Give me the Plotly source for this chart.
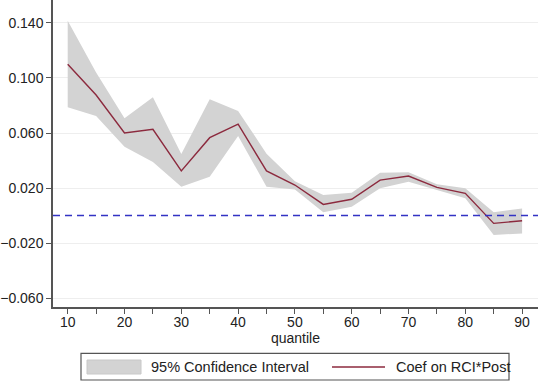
import plotly.graph_objects as go

quantiles = [10, 15, 20, 25, 30, 35, 40, 45, 50, 55, 60, 65, 70, 75, 80, 85, 90]
coef = [0.110, 0.0876, 0.060, 0.0627, 0.0324, 0.0566, 0.0665, 0.0324, 0.0222,
        0.0081, 0.0118, 0.0258, 0.0287, 0.0205, 0.0161, -0.0057, -0.0038]
ci_upper = [0.1417, 0.104, 0.0707, 0.086, 0.0447, 0.0845, 0.076, 0.045, 0.025,
            0.0149, 0.0166, 0.0311, 0.0314, 0.0227, 0.0198, 0.0023, 0.0052]
ci_lower = [0.0787, 0.0724, 0.050, 0.039, 0.021, 0.0282, 0.0578, 0.021, 0.019,
            0.0023, 0.0064, 0.0198, 0.0245, 0.0185, 0.0125, -0.0142, -0.013]
y_ticks = [-0.06, -0.02, 0.02, 0.06, 0.10, 0.14]
x_ticks = [10, 20, 30, 40, 50, 60, 70, 80, 90]
legend_labels = ["95% Confidence Interval", "Coef on RCI*Post"]

FILL = "#d3d3d3"
LINE = "#8c2a3e"
FONT = "Liberation Sans, Arial, sans-serif"

fig = go.Figure()
fig.add_trace(go.Scatter(
    x=quantiles + quantiles[::-1],
    y=ci_upper + ci_lower[::-1],
    fill="toself", fillcolor=FILL, line=dict(width=0, color=FILL),
    mode="lines", hoverinfo="skip", showlegend=False))
fig.add_trace(go.Scatter(
    x=quantiles, y=coef, mode="lines",
    line=dict(color=LINE, width=1.4), showlegend=False))

# zero reference line
fig.add_shape(type="line", xref="paper", yref="y", x0=0, x1=1, y0=0, y1=0,
              line=dict(color="#3333c4", width=1.5, dash="7px,5px"))

tickvals = list(range(10, 91, 5))
ticktext = [str(v) if v in x_ticks else "" for v in tickvals]

fig.update_xaxes(
    range=[7.41, 92.8], tickvals=tickvals, ticktext=ticktext,
    ticks="outside", ticklen=5, tickwidth=1.2, tickcolor="#555",
    showline=True, linecolor="#555", linewidth=1.5, showgrid=False,
    zeroline=False, automargin=False, ticklabelstandoff=-4,
    title=dict(text="quantile", font=dict(size=14, color="#222"), standoff=0),
    tickfont=dict(size=14, color="#222"))
fig.update_yaxes(
    range=[-0.0665, 0.1567], tickvals=y_ticks, tickformat=".3f",
    ticks="outside", ticklen=5, tickwidth=1.2, tickcolor="#555",
    showline=True, linecolor="#555", linewidth=1.5, automargin=False,
    showgrid=True, gridcolor="#eeeeee", gridwidth=1, zeroline=False,
    tickfont=dict(size=14, color="#222"))

# custom legend box
H = 307.0
def py(p):
    return (H - p) / H
def px(p):
    return (p - 53) / 485.0

fig.add_shape(type="rect", xref="paper", yref="paper",
              x0=px(81), x1=px(509), y0=py(380), y1=py(353.3),
              line=dict(color="#555", width=1.2), fillcolor="white")
fig.add_shape(type="rect", xref="paper", yref="paper",
              x0=px(87), x1=px(141), y0=py(374), y1=py(360),
              line=dict(color="#c8c8c8", width=1), fillcolor=FILL)
fig.add_shape(type="line", xref="paper", yref="paper",
              x0=px(332), x1=px(385), y0=py(367), y1=py(367),
              line=dict(color=LINE, width=1.5))
fig.add_annotation(xref="paper", yref="paper", x=px(149), y=py(367),
                   text=legend_labels[0], showarrow=False, xanchor="left",
                   yanchor="middle", font=dict(size=14.5, color="#222"))
fig.add_annotation(xref="paper", yref="paper", x=px(394), y=py(367),
                   text=legend_labels[1], showarrow=False, xanchor="left",
                   yanchor="middle", font=dict(size=14.5, color="#222"))

fig.update_layout(
    width=538, height=381,
    margin=dict(l=53, r=0, t=0, b=74),
    paper_bgcolor="white", plot_bgcolor="white",
    font=dict(family=FONT, size=14, color="#222"),
    showlegend=False)

fig.write_html("out.html", config={"displayModeBar": False},
               post_script="document.body.style.margin='0';document.body.style.overflow='hidden';")
